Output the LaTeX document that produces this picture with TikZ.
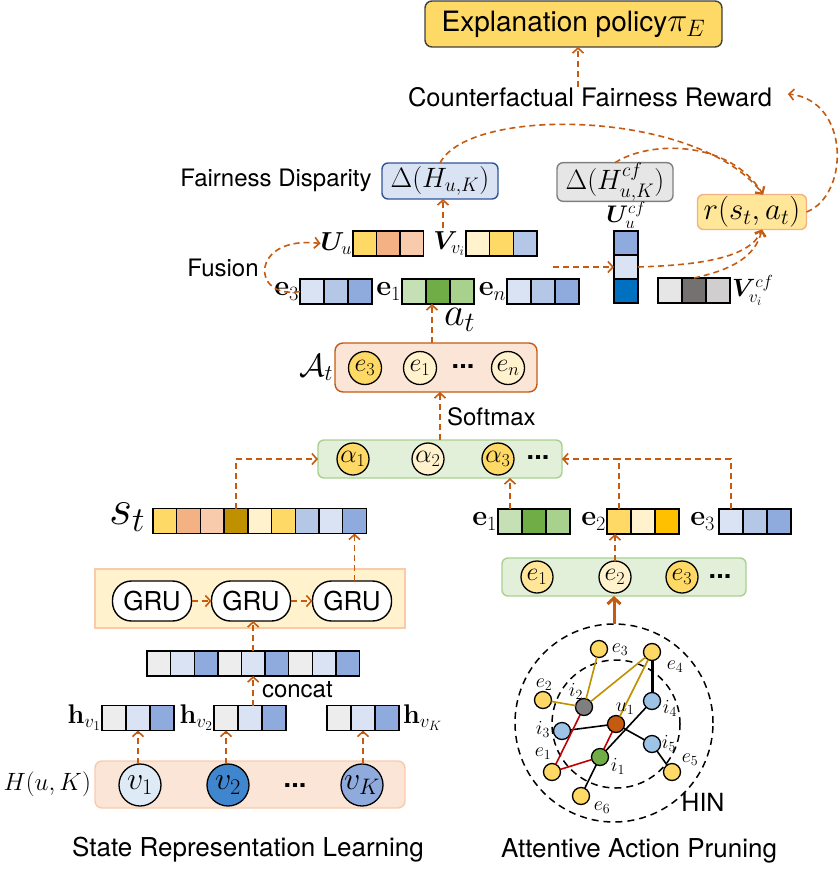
\RequirePackage{fix-cm}
\documentclass[tikz,border=0pt]{standalone}
\usepackage{amsmath,bm}
\usepackage[no-math]{fontspec}
\setsansfont{TeX Gyre Heros}
\usetikzlibrary{arrows.meta,calc}
\definecolor{orng}{HTML}{C55A11}
\definecolor{cY}{HTML}{FFD966}
\definecolor{cO}{HTML}{F4B183}
\definecolor{cLO}{HTML}{F8CBAD}
\definecolor{cDY}{HTML}{BF9000}
\definecolor{cLY}{HTML}{FFF2CC}
\definecolor{cMY}{HTML}{FFE699}
\definecolor{cB1}{HTML}{DAE3F3}
\definecolor{cB2}{HTML}{B4C7E7}
\definecolor{cB3}{HTML}{8FAADC}
\definecolor{cG1}{HTML}{C5E0B4}
\definecolor{cG2}{HTML}{70AD47}
\definecolor{cG3}{HTML}{A9D18E}
\definecolor{cGold}{HTML}{FFC000}
\definecolor{cGr}{HTML}{EDEDED}
\definecolor{cDB}{HTML}{0070C0}
\definecolor{cVa}{HTML}{E7E6E6}
\definecolor{cVb}{HTML}{767171}
\definecolor{cVc}{HTML}{D0CECE}
\definecolor{cPk}{HTML}{FBE5D6}
\definecolor{cGb}{HTML}{E2F0D9}
\definecolor{dblue}{HTML}{2F5597}
\definecolor{cGrey}{HTML}{7F7F7F}
\definecolor{cIb}{HTML}{9DC3E6}
\definecolor{cV1}{HTML}{DEEBF7}
\definecolor{cV2}{HTML}{3F86CF}
\definecolor{gold}{HTML}{BF9000}
\definecolor{dred}{HTML}{C00000}
\newcommand\cellrow[5]{\foreach \cc [count=\ii] in {#5}{\node[cell, fill=\cc, minimum width=#4] (#1-\ii) at ({#2+(\ii-0.5)*#4},#3) {};}}
\newcommand\bdots{\sffamily\bfseries\fontsize{27}{27}\selectfont...}
\begin{document}
\begin{tikzpicture}[x=1pt,y=-1pt,
 every node/.style={inner sep=0pt,outer sep=0pt},
 sf/.style={font=\sffamily\fontsize{#1}{#1}\selectfont},
 mf/.style={font=\fontsize{#1}{#1}\selectfont},
 cell/.style={draw=black, line width=1.4pt, minimum height=25pt},
 rbox/.style={rounded corners=#1, line width=1.4pt},
 darr/.style={draw=orng, line width=1.6pt, dash pattern=on 6pt off 4pt, -{Straight Barb[length=5pt,width=11pt]}},
 dln/.style={draw=orng, line width=1.6pt, dash pattern=on 6pt off 4pt},
 circ/.style={circle, draw=black, line width=1.3pt, minimum size=#1},
 hn/.style={circle, draw=black, line width=1.3pt, minimum size=17pt, fill=#1},
 hl/.style={font=\fontsize{20}{20}\selectfont},
 gru/.style={draw=black, fill=white, line width=1.4pt, rounded corners=19pt, minimum width=79pt, minimum height=40pt, font=\sffamily\fontsize{26}{26}\selectfont},
 hedge/.style={line width=1.6pt}]
\useasboundingbox (0,0) rectangle (838,870);

% ---- top ----
\node[rbox=7pt, fill=cY, draw=black!75, minimum width=297pt, minimum height=46pt, sf=28] (pol) at (573.5,24) {Explanation policy\fontsize{34}{34}\selectfont$\pi_{E}$};
\node[sf=25.5] (cfr) at (590,97) {Counterfactual Fairness Reward};
\draw[darr] ([xshift=-12pt]cfr.north) -- ([xshift=-12pt]cfr.north |- pol.south);

\node[sf=24] (fd) at (276,180) {Fairness Disparity};
\node[rbox=6pt, fill=cB1, draw=dblue, minimum width=116pt, minimum height=36pt, mf=28] (dH) at (440,181) {$\Delta(H_{u,K})$};
\node[rbox=6pt, fill=cVa, draw=cGrey, minimum width=116pt, minimum height=38pt, mf=28] (dHcf) at (615,182) {$\Delta(H^{cf}_{u,K})$};
\node[rbox=6pt, fill=cMY, draw=cO, minimum width=109pt, minimum height=35pt, mf=31] (r) at (752,212) {$r(s_t,a_t)$};

\draw[darr] (dH.north) .. controls (470,105) and (700,110) .. ([xshift=11pt]r.north);
\draw[darr] (dHcf.north) .. controls (650,140) and (730,140) .. ([xshift=11pt]r.north);
\draw[darr] (r.east) .. controls (850,195) and (850,100) .. ([shift={(16,-3)}]cfr.east);

% ---- U, V ----
\cellrow{uu}{353}{243.5}{23.5}{cY,cO,cLO}
\cellrow{vv}{466}{243.5}{23.7}{cLY,cY,cB2}
\node[mf=26, anchor=east] (ulab) at ([xshift=-1pt]uu-1.west) {$\bm{U}_u$};
\node[mf=26, anchor=east] (vlab) at ([xshift=-1pt]vv-1.west) {$\bm{V}_{v_i}$};
\coordinate (fuse) at (443,228);
\draw[darr] (fuse) -- (fuse |- dH.south);

% ---- e rows ----
\cellrow{ea}{300}{291.5}{24}{cB1,cB2,cB3}
\cellrow{eb}{402}{291.5}{24}{cG1,cG2,cG3}
\cellrow{en}{507}{291.5}{24}{cB1,cB2,cB3}
\node[mf=29, anchor=east] (eal) at ([xshift=-1pt]ea-1.west) {$\mathbf{e}_3$};
\node[mf=29, anchor=east] (ebl) at ([xshift=-1pt]eb-1.west) {$\mathbf{e}_1$};
\node[mf=29, anchor=east] (enl) at ([xshift=-1pt]en-1.west) {$\mathbf{e}_n$};
\node[sf=24] (fus) at (223,268) {Fusion};
\draw[darr] (ea-1.west) .. controls (250,300) and (250,235) .. (ulab.west);

% ---- counterfactual ----
\node[cell, fill=cB3, minimum width=24pt, minimum height=24pt] (ucf-1) at (626,243) {};
\node[cell, fill=cB1, minimum width=24pt, minimum height=24pt] (ucf-2) at (626,267) {};
\node[cell, fill=cDB, minimum width=24pt, minimum height=24pt] (ucf-3) at (626,291) {};
\node[mf=24, anchor=south] (ucfl) at ([yshift=3pt]ucf-1.north) {$\bm{U}_u^{cf}$};
\cellrow{vcf}{658}{290.5}{24}{cVa,cVb,cVc}
\node[mf=25, anchor=west] (vcfl) at ([xshift=2pt]vcf-3.east) {$\bm{V}_{v_i}^{cf}$};
\coordinate (cfs) at (553,267);
\draw[darr] (cfs) -- (ucf-2.west);
\draw[darr] (ucf-2.east) .. controls (700,265) and (750,258) .. ([xshift=10pt]r.south);
\draw[darr] (vcf-2.north) .. controls (730,270) and (755,258) .. ([xshift=10pt]r.south);

% ---- action space ----
\node[rbox=8pt, fill=cPk, draw=orng, minimum width=202pt, minimum height=49pt] (At) at (436,367.5) {};
\node[mf=32, anchor=east] (Atl) at ([xshift=-2pt]At.west) {$\mathcal{A}_t$};
\node[circ=33pt, fill=cY, mf=26] (a1) at (365,368) {$e_3$};
\node[circ=33pt, fill=cLY, mf=26] (a2) at (420,368) {$e_1$};
\node (a3) at (463,367) {\bdots};
\node[circ=33pt, fill=cLY, mf=26] (a4) at (508,368) {$e_n$};
\draw[darr] ([xshift=-4pt]At.north) -- ([xshift=-4pt]At.north |- eb-2.south);
\node[mf=40, anchor=west] (atl) at (444,320) {$a_t$};

% ---- attention ----
\node[rbox=6pt, fill=cGb, draw=cG3, minimum width=244pt, minimum height=38pt] (al) at (440,459) {};
\node[circ=32pt, fill=cY, mf=26] (al1) at (353,459) {$\alpha_1$};
\node[circ=32pt, fill=cLY, mf=26] (al2) at (428,459) {$\alpha_2$};
\node[circ=32pt, fill=cY, mf=26] (al3) at (498,459) {$\alpha_3$};
\node (al4) at (538,458) {\bdots};
\draw[darr] (al.north) -- (al.north |- At.south);
\node[sf=24, anchor=west] (smx) at (447,417) {Softmax};

% ---- state ----
\cellrow{st}{153}{521}{23.7}{cY,cO,cLO,cDY,cLY,cY,cB2,cB1,cB3}
\node[mf=50, anchor=east] (stl) at (145,517) {$s_t$};
\draw[darr] (st-4.north) |- (al.west);

\node[fill=cLY, draw=cLO, line width=1.4pt, minimum width=310pt, minimum height=59pt] (gbox) at (250,598.5) {};
\node[gru] (g1) at (152,601) {GRU};
\node[gru] (g2) at (251,601) {GRU};
\node[gru] (g3) at (352,601) {GRU};
\draw[darr] (g1) -- (g2);
\draw[darr] (g2) -- (g3);
\draw[darr] (st-9.south |- g3.north) -- (st-9.south);

\cellrow{cc}{147}{663.5}{23.6}{cGr,cB1,cB3,cGr,cB1,cB3,cGr,cB1,cB3}
\draw[darr] (cc-5.north) -- (cc-5.north |- g2.south);
\node[sf=24, anchor=west] (ccl) at (262,690) {concat};

\cellrow{h1}{102}{718}{24}{cGr,cB1,cB3}
\cellrow{h2}{214}{718}{24}{cGr,cB1,cB3}
\cellrow{hK}{327}{718}{24}{cGr,cB1,cB3}
\node[mf=27, anchor=east] (h1l) at ([xshift=-1pt]h1-1.west) {$\mathbf{h}_{v_1}$};
\node[mf=27, anchor=east] (h2l) at ([xshift=-1pt]h2-1.west) {$\mathbf{h}_{v_2}$};
\node[mf=27, anchor=west] (hKl) at ([xshift=4pt]hK-3.east) {$\mathbf{h}_{v_K}$};
\draw[darr] (cc-5.south |- h2-2.north) -- (cc-5.south);

\node[rbox=7pt, fill=cPk, draw=cLO, minimum width=310pt, minimum height=47pt] (Hb) at (250,784.5) {};
\node[mf=25, anchor=east] (Hl) at ([xshift=-4pt]Hb.west) {$H(u,K)$};
\node[circ=42pt, fill=cV1, mf=32] (v1) at (140,785) {$v_1$};
\node[circ=42pt, fill=cV2, mf=32] (v2) at (228,785) {$v_2$};
\node (vd) at (295,786) {\bdots};
\node[circ=42pt, fill=cB3, mf=32] (vK) at (362,785) {$v_K$};
\draw[darr] (h1-2.south |- v1.north) -- (h1-2.south);
\draw[darr] (h2-1.south |- v2.north) -- (h2-1.south);
\draw[darr] (hK-2.south |- vK.north) -- (hK-2.south);

% ---- right: entity embeddings ----
\cellrow{ra}{498}{521.5}{24}{cG1,cG2,cG3}
\cellrow{rb}{607}{521.5}{24}{cY,cLY,cGold}
\cellrow{rc}{719}{521.5}{24}{cB1,cB2,cB3}
\node[mf=29, anchor=east] (ral) at ([xshift=-1pt]ra-1.west) {$\mathbf{e}_1$};
\node[mf=29, anchor=east] (rbl) at ([xshift=-1pt]rb-1.west) {$\mathbf{e}_2$};
\node[mf=29, anchor=east] (rcl) at ([xshift=-4pt]rc-1.west) {$\mathbf{e}_3$};
\draw[darr] (ra-1.north) -- (ra-1.north |- al.south);
\draw[darr] (rb-1.north) |- (al.east);
\draw[dln] (rc-1.north) |- (rb-1.north |- al.east);

\node[rbox=6pt, fill=cGb, draw=cG3, minimum width=244pt, minimum height=38pt] (cb) at (624,577) {};
\node[circ=32pt, fill=cMY, mf=26] (c1) at (537,577) {$e_1$};
\node[circ=32pt, fill=cLY, mf=26] (c2) at (615,577) {$e_2$};
\node[circ=32pt, fill=cY, mf=26] (c3) at (682,577) {$e_3$};
\node (c4) at (720,577) {\bdots};
\draw[darr] (c2.north) -- (c2.north |- rb-1.south);

% ---- HIN ----
\node[circle, draw=black, line width=1.5pt, dash pattern=on 7pt off 5pt, minimum size=198pt] (hin) at (614,723) {};
\node[circle, draw=black, line width=1.5pt, dash pattern=on 7pt off 5pt, minimum size=128pt] (hin2) at (616,724) {};
\draw[orng, line width=3pt, -{Straight Barb[length=6pt,width=13pt]}] (hin.north) -- (hin.north |- cb.south);

\node[hn=cY] (ne3) at (599,649) {};
\node[hn=cY] (ne4) at (652,652) {};
\node[hn=cY] (ne2) at (543,700) {};
\node[hn=cGrey] (ni2) at (584,707) {};
\node[hn=cIb] (ni4) at (652,701) {};
\node[hn=orng] (nu1) at (616,724) {};
\node[hn=cIb] (ni3) at (562,731) {};
\node[hn=cIb] (ni5) at (652,744) {};
\node[hn=cG2] (ni1) at (600,757) {};
\node[hn=cY] (ne1) at (552,772) {};
\node[hn=cY] (ne5) at (672,772) {};
\node[hn=cY] (ne6) at (581,796) {};

\draw[hedge, gold] (ne3) -- (ni2);
\draw[hedge, gold] (ne2) -- (ni2);
\draw[hedge, gold] (ni2) -- (ne4);
\draw[hedge, gold] (ne4) -- (nu1);
\draw[line width=3pt] (ne4) -- (ni4);
\draw[hedge] (ni4) -- (ni1);
\draw[hedge] (ni3) -- (nu1);
\draw[hedge] (nu1) -- (ni5);
\draw[hedge] (ni5) -- (ne5);
\draw[hedge] (ni1) -- (ne6);
\draw[hedge, dred] (ni2) -- (ne1);
\draw[hedge, dred] (nu1) -- (ni1);
\draw[hedge, dred] (ni1) -- (ne1);

\node[hl] (le3) at (620,650) {$e_3$};
\node[hl] (le4) at (675,667) {$e_4$};
\node[hl] (le2) at (544,685) {$e_2$};
\node[hl] (li2) at (576,691) {$i_2$};
\node[hl] (li4) at (670,708) {$i_4$};
\node[hl] (lu1) at (625,709) {$u_1$};
\node[hl] (li3) at (543,729) {$i_3$};
\node[hl] (li5) at (669,743) {$i_5$};
\node[hl] (li1) at (618,766) {$i_1$};
\node[hl] (le1) at (543,754) {$e_1$};
\node[hl] (le5) at (690,760) {$e_5$};
\node[hl] (le6) at (602,808) {$e_6$};
\node[sf=25] (hinl) at (703,802) {HIN};

\node[sf=26] (srl) at (248,850) {State Representation Learning};
\node[sf=26] (aap) at (639,851) {Attentive Action Pruning};
\end{tikzpicture}
\end{document}
